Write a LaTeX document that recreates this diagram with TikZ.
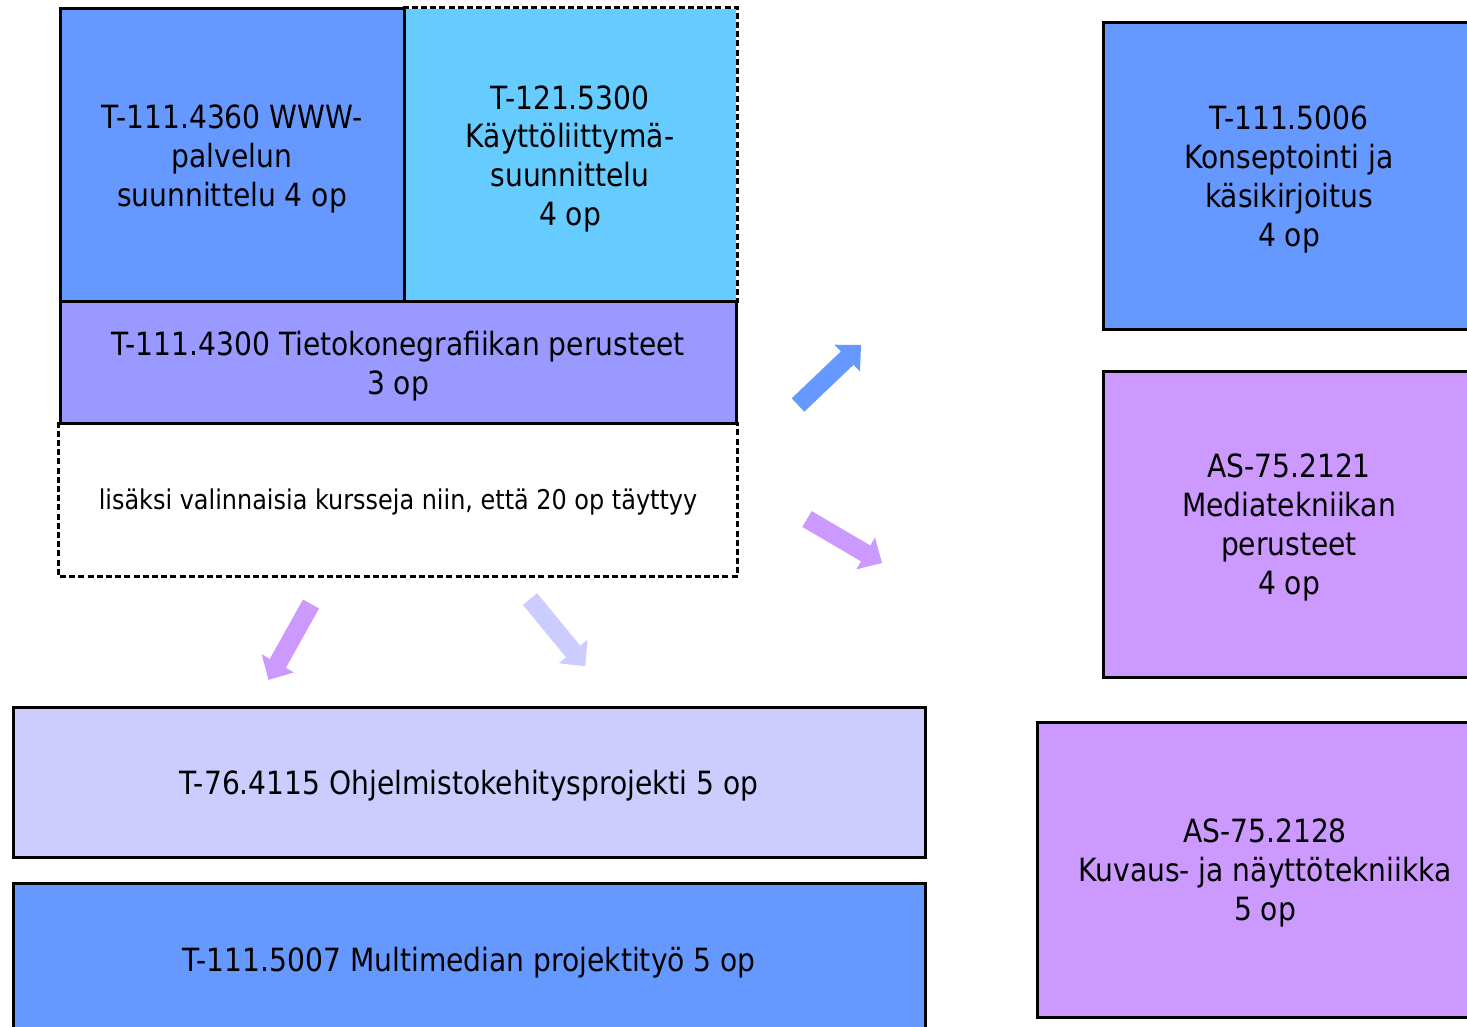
\documentclass[tikz,border=0pt]{standalone}
\usepackage{fontspec}
\setmainfont[FakeStretch=0.88]{DejaVu Sans}
\usepackage{tikz}
\usetikzlibrary{positioning}
\definecolor{blueA}{HTML}{6699FF}
\definecolor{cyanA}{HTML}{66CCFF}
\definecolor{violetA}{HTML}{9999FF}
\definecolor{lavA}{HTML}{CCCCFF}
\definecolor{lilacA}{HTML}{CC99FF}
\newcommand{\bigarrow}[4]{\fill[#4,shift={(#1,#2)},rotate=#3] (0,-9.2) -- (68,-9.2) -- (68,-18.5) -- (87,0) -- (68,18.5) -- (68,9.2) -- (0,9.2) -- cycle;}

\begin{document}
\begin{tikzpicture}[x=0.5pt,y=-0.5pt]
\useasboundingbox (0,0) rectangle (1467,1027);
\clip (0,0) rectangle (1467,1027);
%%%%%%%%%%%%%%%%%%%%%%%%%%%%%%%%%%%%%%%%%%%%%%%%%%%%%%%%%%%%%%%%%%%%%%%%
%courses
\tikzstyle{course}=[rectangle,line width=1.5pt,inner sep=0pt,text depth=0pt,align=center,font=\fontsize{16}{19.4}\selectfont]
\tikzstyle{edge}=[line width=1.3pt,dash pattern=on 3pt off 1.6pt]

%top block
\node[course,fill=cyanA,minimum width=166pt,minimum height=146.5pt] (ui) at (570,155.5) {T-121.5300\\K\"aytt\"oliittym\"a-\\suunnittelu\\4 op};
\node[course,draw,fill=blueA,minimum width=172pt,minimum height=146.5pt] (www) at (232,155.5) {T-111.4360 WWW-\\palvelun\\suunnittelu 4 op};
\node[course,minimum width=338pt,minimum height=76pt,font=\fontsize{13.6}{16}\selectfont] (extra) at (398,499) {lis\"aksi valinnaisia kursseja niin, ett\"a 20 op t\"ayttyy};
\node[course,draw,fill=violetA,minimum width=338pt,minimum height=60.5pt] (graf) at (398,362.5) {T-111.4300 Tietokonegrafiikan perusteet\\3 op};
\draw[edge] (ui.north west) -- (ui.north east) -- (ui.south east);
\draw[edge] (extra.north west) -- (extra.south west) -- (extra.south east) -- (extra.north east);

%bottom
\node[course,draw,fill=lavA,minimum width=456pt,minimum height=75pt] (proj) at (469,782) {T-76.4115 Ohjelmistokehitysprojekti 5 op};
\node[course,draw,fill=blueA,minimum width=456pt,minimum height=76pt] (mmproj) at (469,959) {T-111.5007 Multimedian projektity\"o 5 op};

%right
\node[course,draw,fill=blueA,minimum width=186pt,minimum height=153pt] (konsept) at (1289,176) {T-111.5006\\Konseptointi ja\\k\"asikirjoitus\\4 op};
\node[course,draw,fill=lilacA,minimum width=186pt,minimum height=153pt] (media) at (1289,524) {AS-75.2121\\Mediatekniikan\\perusteet\\4 op};
\node[course,draw,fill=lilacA,minimum width=228pt,minimum height=147.5pt] (kuvaus) at (1265,869.5) {AS-75.2128\\Kuvaus- ja n\"aytt\"otekniikka\\5 op};

%arrows
\bigarrow{798}{405}{43.6}{blueA}
\bigarrow{807}{519}{-30.4}{lilacA}
\bigarrow{311}{604}{240.8}{lilacA}
\bigarrow{530}{599}{-50.6}{lavA}

\end{tikzpicture}
\end{document}
